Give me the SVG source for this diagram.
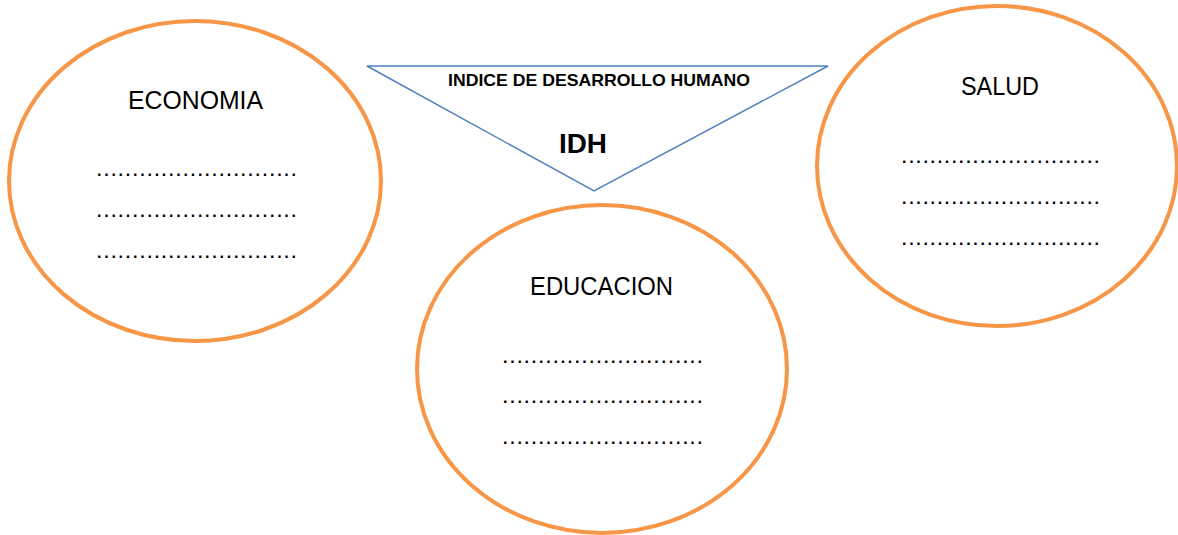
<svg xmlns="http://www.w3.org/2000/svg" width="1178" height="535" viewBox="0 0 1178 535">
<style>
.oval{fill:#fff;stroke:#F79646;stroke-width:4}
.tri{fill:#fff;stroke:#4F81BD;stroke-width:1.5}
.lbl{font-family:"Liberation Sans",Arial,sans-serif;font-size:25px;fill:#000}
.dots{font-family:"Liberation Sans",Arial,sans-serif;font-size:16px;fill:#000;font-weight:bold}
.bold{font-family:"Liberation Sans",Arial,sans-serif;font-weight:bold;fill:#000}
</style>
<rect width="1178" height="535" fill="#fff"/>
<g id="connectors"></g>
<g id="economia">
<ellipse class="oval" cx="195" cy="181" rx="186" ry="160"/>
<text class="lbl" x="128" y="109" textLength="135" lengthAdjust="spacingAndGlyphs">ECONOMIA</text>
<text class="dots" x="97" y="176" textLength="199" lengthAdjust="spacing">............................</text>
<text class="dots" x="97" y="217" textLength="199" lengthAdjust="spacing">............................</text>
<text class="dots" x="97" y="258" textLength="199" lengthAdjust="spacing">............................</text>
</g>
<g id="idh">
<polygon class="tri" points="367,66 828,66 594,191"/>
<text class="bold" x="448" y="86" font-size="16.5" textLength="302" lengthAdjust="spacingAndGlyphs">INDICE DE DESARROLLO HUMANO</text>
<text class="bold" x="559" y="153" font-size="28" textLength="48" lengthAdjust="spacingAndGlyphs">IDH</text>
</g>
<g id="salud">
<ellipse class="oval" cx="997" cy="166" rx="180" ry="160"/>
<text class="lbl" x="961" y="95" textLength="78" lengthAdjust="spacingAndGlyphs">SALUD</text>
<text class="dots" x="902" y="163" textLength="197" lengthAdjust="spacing">............................</text>
<text class="dots" x="902" y="204" textLength="197" lengthAdjust="spacing">............................</text>
<text class="dots" x="902" y="245" textLength="197" lengthAdjust="spacing">............................</text>
</g>
<g id="educacion">
<ellipse class="oval" cx="602" cy="369" rx="185" ry="164"/>
<text class="lbl" x="530" y="295" textLength="143" lengthAdjust="spacingAndGlyphs">EDUCACION</text>
<text class="dots" x="503" y="363" textLength="199" lengthAdjust="spacing">............................</text>
<text class="dots" x="503" y="403" textLength="199" lengthAdjust="spacing">............................</text>
<text class="dots" x="503" y="444" textLength="199" lengthAdjust="spacing">............................</text>
</g>
</svg>
